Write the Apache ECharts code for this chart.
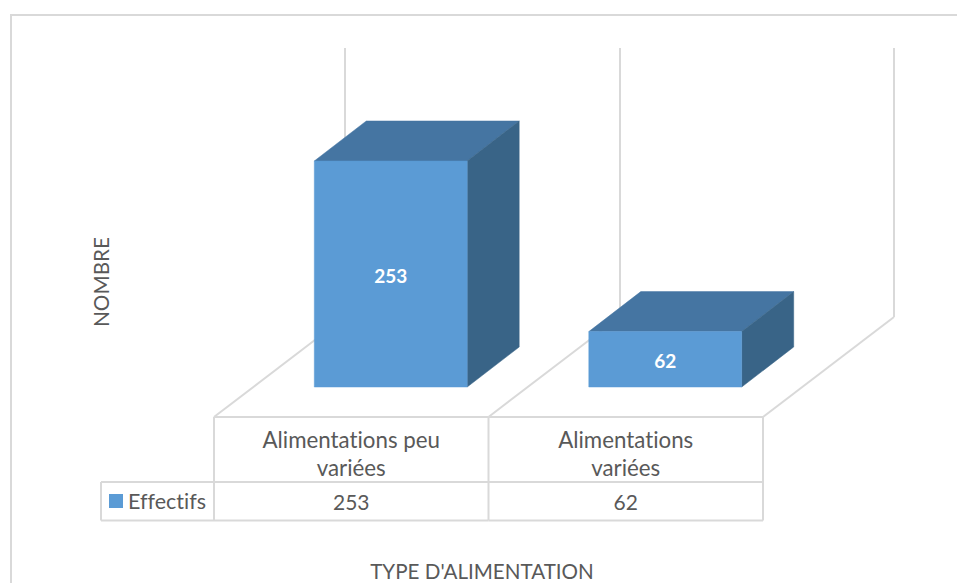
<!DOCTYPE html>
<html>
<head>
<meta charset="utf-8">
<style>
html,body{margin:0;padding:0;background:#fff}
#chart{width:957px;height:583px}
#chart text{font-variant-ligatures:none}
</style>
<script src="https://cdn.jsdelivr.net/npm/echarts@6/dist/echarts.min.js"></script>
</head>
<body>
<div id="chart"></div>
<script>
// Effectifs par type d'alimentation
const categories = ['Alimentations peu\nvariées', 'Alimentations\nvariées'];
const seriesName = 'Effectifs';
const effectifs = [253, 62];
const axisMax = 300;

const FONT = 'Lato';
const TEXT = '#595959';
const RULE = '#D9D9D9';
const FRONT = '#5B9BD5';
const TOP = '#4575A2';
const SIDE = '#396487';

// Projection offsets of the oblique view, in pixels
const floorDx = 131, floorDy = 100;   // floor depth between table edge and back wall
const barDx = 52, barDy = 40;         // depth of one bar

const rowHeader = 65, rowValue = 38.5;

function polygon(points, fill) {
  return { type: 'polygon', shape: { points }, style: { fill, stroke: fill, lineWidth: 0.5 } };
}
function rule(x1, y1, x2, y2) {
  return { type: 'line', shape: { x1, y1, x2, y2 }, style: { stroke: RULE, lineWidth: 2 } };
}
function label(text, x, y, size, fill, weight) {
  return { type: 'text', style: { text, x, y, align: 'center', verticalAlign: 'middle',
    fontFamily: FONT, fontSize: size, fontWeight: weight || 'normal', fill, lineHeight: 28 } };
}

// Floor edges and data table, hung from the back-wall scale
function renderTable(params, api) {
  const i = api.value(0);
  const band = api.size([1, 0])[0];
  const c = api.coord([i, 0]);
  const backL = c[0] - band / 2, backR = c[0] + band / 2, backY = c[1];
  const l = backL - floorDx, r = backR - floorDx, t = backY + floorDy;
  const m = t + rowHeader, b = m + rowValue;
  const children = [
    rule(backL, backY, l, t),
    rule(l, t, r, t),
    rule(l, m, r, m),
    rule(l, b, r, b),
    rule(l, t, l, b),
    label(categories[i], (l + r) / 2, t + 36.5, 22.3, TEXT),
    label(String(api.value(1)), (l + r) / 2, m + 19, 21, TEXT)
  ];
  if (i === categories.length - 1) {
    children.push(rule(backR, backY, r, t), rule(r, t, r, b));
  }
  if (i === 0) {
    // legend cell to the left of the value row
    children.push(rule(l - 113, m, l, m), rule(l - 113, b, l, b), rule(l - 113, m, l - 113, b));
  }
  return { type: 'group', children };
}

// Oblique bar: front, top and side faces
function renderBar(params, api) {
  const v = api.value(1);
  const base = api.coord([api.value(0), 0]);
  const head = api.coord([api.value(0), v]);
  const w = api.size([1, 0])[0] * 0.557;
  const l = base[0] - w / 2, r = base[0] + w / 2, y0 = base[1], y1 = head[1];
  return { type: 'group', children: [
    polygon([[l, y1], [r, y1], [r + barDx, y1 - barDy], [l + barDx, y1 - barDy]], TOP),
    polygon([[r, y1], [r + barDx, y1 - barDy], [r + barDx, y0 - barDy], [r, y0]], SIDE),
    polygon([[l, y1], [r, y1], [r, y0], [l, y0]], FRONT),
    label(String(v), base[0], (y0 + y1) / 2 + 1.5, 19, '#FFFFFF', 'bold')
  ] };
}

const rows = effectifs.map((v, i) => [i, v]);
const hiddenValue = { type: 'value', min: 0, max: axisMax, show: false, splitLine: { show: false } };

const chart = echarts.init(document.getElementById('chart'), null, { renderer: 'svg' });
chart.setOption({
  animation: false,
  backgroundColor: '#FFFFFF',
  textStyle: { fontFamily: FONT },
  grid: [
    { left: 345, top: 48, width: 549, height: 269 },       // back wall
    { left: 253.5, top: 119, width: 549, height: 268 }     // plane through the bar fronts
  ],
  xAxis: [
    { gridIndex: 0, type: 'category', data: categories,
      axisLine: { show: false }, axisTick: { show: false }, axisLabel: { show: false },
      splitLine: { show: true, interval: 0, lineStyle: { color: RULE, width: 2 } } },
    { gridIndex: 1, type: 'category', data: categories, show: false, splitLine: { show: false } }
  ],
  yAxis: [
    Object.assign({ gridIndex: 0 }, hiddenValue),
    Object.assign({ gridIndex: 1 }, hiddenValue)
  ],
  legend: {
    data: [seriesName], left: 104, top: 485, itemWidth: 14, itemHeight: 14, itemGap: 6,
    icon: 'rect', textStyle: { fontFamily: FONT, fontSize: 21.5, color: TEXT }
  },
  graphic: [
    { type: 'polyline', silent: true, z: 0,
      shape: { points: [[11, 583], [11, 15], [957, 15]] },
      style: { stroke: RULE, lineWidth: 2, fill: null } },
    { type: 'text', silent: true, x: 101, y: 282, rotation: Math.PI / 2,
      style: { text: 'NOMBRE', align: 'center', verticalAlign: 'middle',
        fontFamily: FONT, fontSize: 20.7, fill: TEXT } },
    { type: 'text', silent: true, x: 482, y: 570.5,
      style: { text: "TYPE D'ALIMENTATION", align: 'center', verticalAlign: 'middle',
        fontFamily: FONT, fontSize: 20.6, fill: TEXT } }
  ],
  series: [
    { type: 'custom', name: 'table', xAxisIndex: 0, yAxisIndex: 0, z: 1, silent: true,
      clip: false, renderItem: renderTable, data: rows, encode: { x: 0, y: 1 } },
    { type: 'custom', name: seriesName, xAxisIndex: 1, yAxisIndex: 1, z: 2, silent: true,
      clip: false, renderItem: renderBar, data: rows, encode: { x: 0, y: 1 },
      itemStyle: { color: FRONT } }
  ]
});
</script>
</body>
</html>
